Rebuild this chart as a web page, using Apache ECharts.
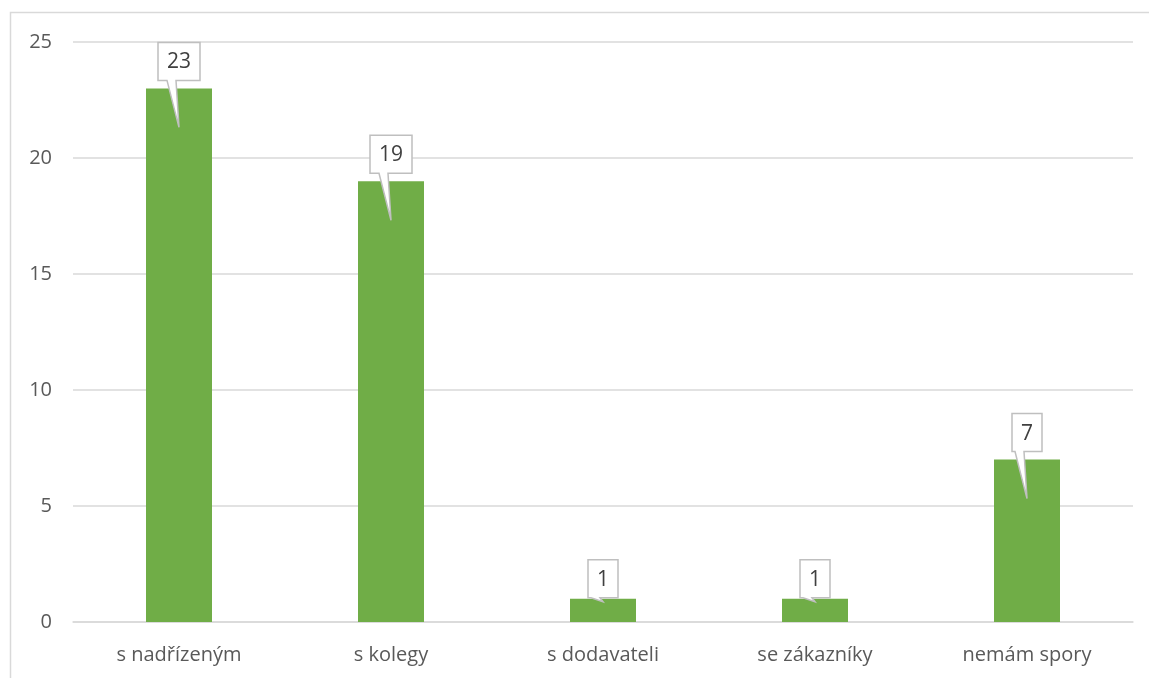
<!DOCTYPE html>
<html>
<head>
<meta charset="utf-8">
<script src="https://cdn.jsdelivr.net/npm/echarts@6/dist/echarts.min.js"></script>
<style>
  html, body { margin: 0; padding: 0; background: #fff; }
  #chart { width: 1149px; height: 678px; }
</style>
</head>
<body>
<div id="chart"></div>
<script>
// data
const categories = ['s nadřízeným', 's kolegy', 's dodavateli', 'se zákazníky', 'nemám spory'];
const counts = [23, 19, 1, 1, 7];
const yTicks = { min: 0, max: 25, interval: 5 };

const textColor = '#595959';
const font = '"Open Sans", "Noto Sans", sans-serif';

// callout box with a tail pointing down into the bar
function renderCallout (params, api) {
  const idx = api.value(0);
  const val = api.value(1);
  const top = api.coord([idx, val]);
  const cx = top[0];
  const small = val < 2;
  const label = String(val);
  const w = label.length > 1 ? 42 : 30;
  const h = 38;
  const y1 = top[1] - (small ? 1 : 8);
  const y0 = y1 - h;
  const x0 = cx - w / 2;
  const x1 = cx + w / 2;
  const tipY = small ? top[1] + 3 : top[1] + 39;
  const pts = [
    [x0, y0], [x1, y0], [x1, y1], [cx - 3, y1],
    [cx, tipY], [cx - 12, y1], [x0, y1]
  ];
  return {
    type: 'group',
    children: [
      {
        type: 'polygon',
        shape: { points: pts },
        style: { fill: '#fff', stroke: '#bfbfbf', lineWidth: 1.5 }
      },
      {
        type: 'text',
        x: cx,
        y: (y0 + y1) / 2 + 1,
        style: {
          text: label,
          fill: '#404040',
          font: '21px ' + font,
          align: 'center',
          verticalAlign: 'middle'
        }
      }
    ]
  };
}

const chart = echarts.init(document.getElementById('chart'));
chart.setOption({
  backgroundColor: '#fff',
  animation: false,
  textStyle: { fontFamily: font },
  graphic: [
    {
      type: 'rect',
      silent: true,
      shape: { x: 10.5, y: 12.5, width: 1300, height: 800 },
      style: { fill: 'none', stroke: '#d9d9d9', lineWidth: 1.5 }
    }
  ],
  grid: { left: 73, right: 16, top: 42, bottom: 56 },
  xAxis: {
    type: 'category',
    data: categories,
    axisTick: { show: false },
    axisLine: { lineStyle: { color: '#d9d9d9', width: 1.5 } },
    axisLabel: { color: textColor, fontSize: 20, margin: 23 }
  },
  yAxis: {
    type: 'value',
    min: yTicks.min,
    max: yTicks.max,
    interval: yTicks.interval,
    axisLine: { show: false },
    axisTick: { show: false },
    axisLabel: { color: textColor, fontSize: 20, margin: 21 },
    splitLine: { lineStyle: { color: '#d9d9d9', width: 1.5 } }
  },
  series: [
    {
      name: 'počet',
      type: 'bar',
      barWidth: 66,
      data: counts,
      itemStyle: { color: '#70ad47' }
    },
    {
      type: 'custom',
      renderItem: renderCallout,
      data: counts.map((v, i) => [i, v]),
      z: 5
    }
  ]
});
</script>
</body>
</html>
